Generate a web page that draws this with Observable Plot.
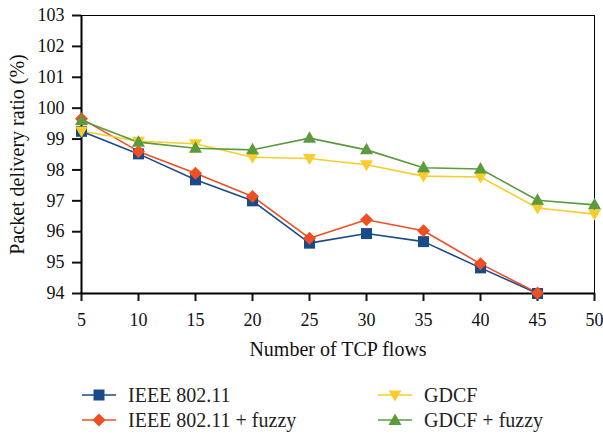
<!DOCTYPE html>
<html>
<head>
<meta charset="utf-8">
<script src="https://cdn.jsdelivr.net/npm/d3@7"></script>
<script src="https://cdn.jsdelivr.net/npm/@observablehq/plot@0.6"></script>
<style>
  html, body { margin: 0; padding: 0; background: #fff; }
  #wrap { position: relative; width: 603px; height: 436px; font-family: "Liberation Serif", "DejaVu Serif", serif; }
  #chart svg { display: block; }
  .leg { position: absolute; display: flex; align-items: center; font-size: 20px; color: #222; white-space: nowrap; }
  .leg svg { display: block; margin-right: 12px; }
</style>
</head>
<body>
<div id="wrap">
  <div id="chart"></div>
  <div id="legend"></div>
</div>
<script>
const flows = [5, 10, 15, 20, 25, 30, 35, 40, 45, 50];
const ieee      = [99.25, 98.52, 97.68, 97.00, 95.63, 95.94, 95.68, 94.83, 94.00];
const ieeeFuzzy = [99.66, 98.60, 97.89, 97.14, 95.79, 96.39, 96.03, 94.96, 94.02];
const gdcf      = [99.26, 98.93, 98.85, 98.41, 98.37, 98.17, 97.80, 97.77, 96.77, 96.57];
const gdcfFuzzy = [99.60, 98.90, 98.70, 98.65, 99.03, 98.65, 98.07, 98.03, 97.02, 96.87];
const seriesNames = ["IEEE 802.11", "IEEE 802.11 + fuzzy", "GDCF", "GDCF + fuzzy"];
const yTicks = [94, 95, 96, 97, 98, 99, 100, 101, 102, 103];
const xLabel = "Number of TCP flows";
const yLabel = "Packet delivery ratio (%)";

const colors = ["#1b4a8a", "#f04e23", "#f7cd2e", "#5b9b3d"];

function poly(pts) {
  return {draw(c) { c.moveTo(pts[0][0], pts[0][1]); for (let i = 1; i < pts.length; i++) c.lineTo(pts[i][0], pts[i][1]); c.closePath(); }};
}
const symSquare = poly([[-5.5,-5.5],[5.5,-5.5],[5.5,5.5],[-5.5,5.5]]);
const symDiamond = poly([[0,-6.5],[6.5,0],[0,6.5],[-6.5,0]]);
const symDown = poly([[-6.5,-4.5],[6.5,-4.5],[0,6.5]]);
const symUp = poly([[0,-7],[6.5,4.5],[-6.5,4.5]]);
const symbols = [symSquare, symDiamond, symDown, symUp];

const allValues = [ieee, ieeeFuzzy, gdcf, gdcfFuzzy];
const series = allValues.map((vals, i) => vals.map((v, j) => ({x: flows[j], y: v, s: seriesNames[i]})));

const marks = [
  Plot.ruleY([103], {stroke: "#000", strokeWidth: 1}),
  Plot.ruleX([50], {stroke: "#000", strokeWidth: 1}),
  Plot.axisY({ticks: yTicks, tickSize: 9, tickPadding: 8, strokeWidth: 2, fontSize: 18, label: null, tickFormat: d => d, color: "#111"}),
  Plot.axisX({ticks: flows, tickSize: 8, tickPadding: 12, strokeWidth: 2, fontSize: 18, label: null, tickFormat: d => d, color: "#111"}),
  Plot.ruleY([94], {stroke: "#000", strokeWidth: 2}),
  Plot.ruleX([5], {stroke: "#000", strokeWidth: 2}),
  Plot.text([xLabel], {frameAnchor: "bottom", dy: 62, fontSize: 20, fill: "#111"}),
  Plot.text([yLabel], {frameAnchor: "left", textAnchor: "middle", rotate: -90, dx: -64, fontSize: 20, fill: "#111"})
];
series.forEach((d, i) => {
  marks.push(Plot.line(d, {x: "x", y: "y", stroke: colors[i], strokeWidth: 1.6}));
});
series.forEach((d, i) => {
  marks.push(Plot.dot(d, {x: "x", y: "y", fill: colors[i], symbol: symbols[i], r: 5}));
});

const chart = Plot.plot({
  width: 603,
  height: 375,
  marginLeft: 81,
  marginRight: 9,
  marginTop: 15,
  marginBottom: 82,
  style: {fontFamily: "'Liberation Serif', serif", fontSize: "18px", color: "#111", background: "#fff"},
  x: {domain: [5, 50]},
  y: {domain: [94, 103]},
  marks
});
document.getElementById("chart").appendChild(chart);

// Legend (HTML below the SVG)
const legendPos = [[82, 395], [82, 420], [378, 395], [378, 420]];
const symPaths = [
  "M11.5,1.5h11v11h-11z",
  "M17,0.5L23.5,7L17,13.5L10.5,7z",
  "M10.5,2.5h13L17,13.5z",
  "M17,0.5L23.5,12h-13z"
];
const legend = document.getElementById("legend");
seriesNames.forEach((name, i) => {
  const div = document.createElement("div");
  div.className = "leg";
  div.style.left = legendPos[i][0] + "px";
  div.style.top = (legendPos[i][1] - 12) + "px";
  div.style.height = "24px";
  div.innerHTML = `<svg width="34" height="14" viewBox="0 0 34 14"><line x1="0" x2="34" y1="7" y2="7" stroke="${colors[i]}" stroke-width="1.6"/><path d="${symPaths[i]}" fill="${colors[i]}"/></svg><span>${name}</span>`;
  legend.appendChild(div);
});
</script>
</body>
</html>
